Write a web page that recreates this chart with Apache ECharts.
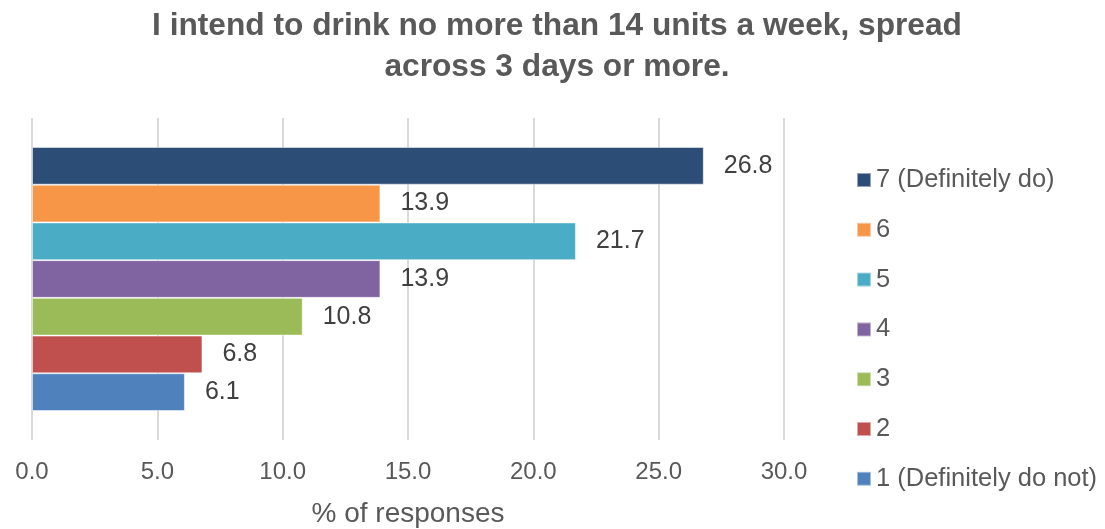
<!DOCTYPE html>
<html><head><meta charset="utf-8">
<script src="https://cdn.jsdelivr.net/npm/echarts@6/dist/echarts.min.js"></script>
<style>html,body{margin:0;padding:0;background:#fff}#c{width:1105px;height:529px}</style>
</head><body><div id="c"></div>
<script>
const titleText = "I intend to drink no more than 14 units a week, spread\nacross 3 days or more.";
const category = ["Intention"];
// listed top to bottom as drawn
const seriesNames = ["7 (Definitely do)", "6", "5", "4", "3", "2", "1 (Definitely do not)"];
const seriesValues = [26.8, 13.9, 21.7, 13.9, 10.8, 6.8, 6.1];
const seriesColors = ["#2c4d75", "#f79646", "#4bacc6", "#8064a2", "#9bbb59", "#c0504d", "#4f81bd"];
const xTicks = { min: 0, max: 30, interval: 5 };

const FONT = "Liberation Sans, Arial, sans-serif";
const chart = echarts.init(document.getElementById('c'));
chart.setOption({
  animation: false,
  textStyle: { fontFamily: FONT },
  title: {
    text: titleText, left: 552, top: 1, textAlign: 'center',
    textStyle: { fontFamily: FONT, fontSize: 31.7, fontWeight: 'bold', color: '#595959', lineHeight: 41 }
  },
  legend: {
    orient: 'vertical', left: 856, top: 167, padding: 0,
    data: seriesNames,
    icon: 'rect', itemWidth: 14, itemHeight: 14, itemGap: 23.8,
    textStyle: { fontFamily: FONT, fontSize: 25.5, color: '#595959' }
  },
  grid: { left: 32, right: 321, top: 118, bottom: 89, containLabel: false, outerBoundsMode: 'none' },
  xAxis: {
    type: 'value', min: xTicks.min, max: xTicks.max, interval: xTicks.interval,
    name: '% of responses', nameLocation: 'middle', nameGap: 60,
    nameTextStyle: { fontFamily: FONT, fontSize: 28, color: '#595959' },
    axisLine: { show: false }, axisTick: { show: false },
    axisLabel: { formatter: v => v.toFixed(1), fontFamily: FONT, fontSize: 24, color: '#595959', margin: 20 },
    splitLine: { show: true, lineStyle: { color: '#d9d9d9', width: 2 } }
  },
  yAxis: {
    type: 'category', data: category,
    axisLine: { show: false }, axisTick: { show: false }, axisLabel: { show: false }
  },
  series: seriesNames.map((n, i) => ({
    name: n, type: 'bar', data: [seriesValues[i]],
    barGap: '0%', barCategoryGap: '18%',
    itemStyle: { color: seriesColors[i], borderColor: 'rgba(255,255,255,0.5)', borderWidth: 1 },
    label: { show: true, position: 'right', distance: 20, formatter: p => p.value.toFixed(1),
      fontFamily: FONT, fontSize: 25, color: '#404040' }
  }))
});
</script></body></html>
